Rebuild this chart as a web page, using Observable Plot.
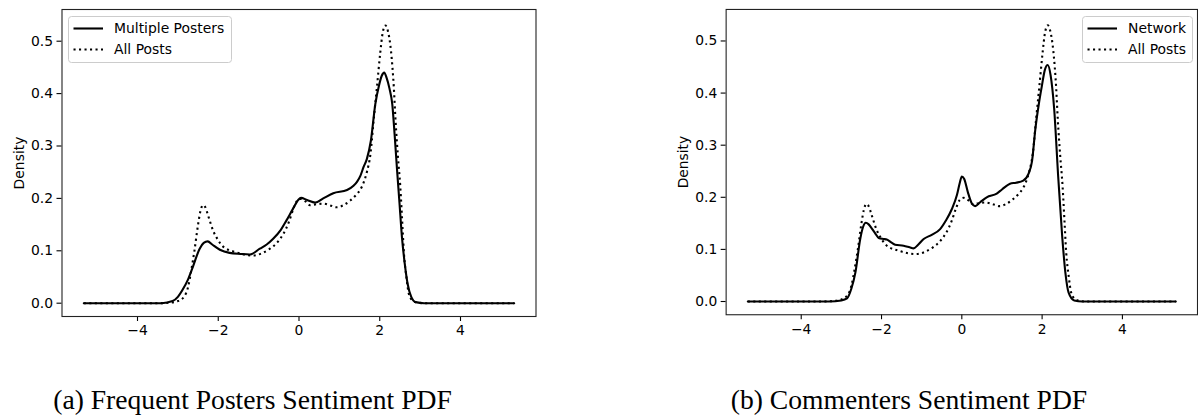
<!DOCTYPE html>
<html>
<head>
<meta charset="utf-8">
<script src="https://cdn.jsdelivr.net/npm/d3@7"></script>
<script src="https://cdn.jsdelivr.net/npm/@observablehq/plot@0.6"></script>
<style>
  html, body { margin: 0; padding: 0; background: #fff; }
  body { width: 1198px; height: 419px; position: relative; overflow: hidden; }
  .panel { position: absolute; top: 0; }
  .caption { position: absolute; top: 386px; font-family: "Liberation Serif", serif; font-size: 27.6px; line-height: 1; color: #000; white-space: nowrap; transform: translateX(-50%); }
  .legend { position: absolute; }
</style>
</head>
<body>
<div id="pa" class="panel" style="left:0px"></div>
<div id="pb" class="panel" style="left:660px"></div>
<div class="caption" style="left:252.5px">(a) Frequent Posters Sentiment PDF</div>
<div class="caption" style="left:909px">(b) Commenters Sentiment PDF</div>
<script>
// ---- data ----
const allPostsX = [-5.33,-3.5,-3.2,-3.0,-2.84,-2.75,-2.67,-2.59,-2.5,-2.44,-2.38,-2.32,-2.25,-2.13,-2.0,-1.88,-1.55,-1.3,-1.14,-0.9,-0.72,-0.55,-0.39,-0.25,-0.14,-0.05,0.05,0.15,0.27,0.45,0.6,0.8,0.94,1.1,1.27,1.42,1.52,1.6,1.68,1.77,1.85,1.93,2.01,2.07,2.14,2.2,2.28,2.35,2.39,2.45,2.51,2.56,2.6,2.66,2.72,2.8,2.89,3.1,5.33];
const allPostsY = [0,0,0.001,0.004,0.013,0.03,0.062,0.1,0.15,0.176,0.187,0.183,0.167,0.139,0.12,0.108,0.097,0.092,0.091,0.096,0.104,0.115,0.132,0.155,0.18,0.195,0.199,0.195,0.187,0.189,0.19,0.186,0.183,0.187,0.196,0.207,0.217,0.23,0.25,0.285,0.35,0.412,0.476,0.515,0.53,0.52,0.48,0.41,0.35,0.28,0.221,0.15,0.094,0.05,0.018,0.006,0.002,0,0];

const multiX = [-5.33,-3.4,-3.13,-3.0,-2.88,-2.75,-2.63,-2.46,-2.36,-2.26,-2.15,-1.96,-1.72,-1.45,-1.22,-0.97,-0.8,-0.64,-0.45,-0.31,-0.15,-0.02,0.05,0.2,0.4,0.6,0.85,1.19,1.35,1.44,1.52,1.6,1.68,1.78,1.89,1.98,2.05,2.11,2.17,2.24,2.31,2.37,2.43,2.49,2.55,2.62,2.69,2.78,2.89,3.1,5.33];
const multiY = [0,0,0.004,0.012,0.026,0.045,0.069,0.104,0.115,0.118,0.112,0.102,0.096,0.094,0.093,0.104,0.112,0.123,0.14,0.158,0.18,0.197,0.201,0.197,0.192,0.2,0.21,0.216,0.224,0.232,0.243,0.26,0.275,0.31,0.38,0.415,0.434,0.44,0.43,0.41,0.38,0.32,0.253,0.19,0.126,0.075,0.037,0.012,0.002,0,0];

const networkX = [-5.33,-3.3,-3.0,-2.86,-2.75,-2.65,-2.53,-2.46,-2.39,-2.32,-2.24,-2.15,-2.07,-1.95,-1.87,-1.75,-1.66,-1.45,-1.3,-1.2,-1.1,-0.95,-0.75,-0.54,-0.4,-0.25,-0.12,-0.05,0.0,0.06,0.15,0.25,0.33,0.45,0.62,0.87,1.0,1.2,1.35,1.53,1.66,1.75,1.83,1.92,1.99,2.07,2.14,2.21,2.3,2.4,2.5,2.58,2.66,2.8,3.0,5.33];
const networkY = [0,0,0.002,0.006,0.025,0.056,0.12,0.143,0.151,0.148,0.14,0.13,0.122,0.12,0.119,0.113,0.109,0.107,0.104,0.102,0.108,0.12,0.128,0.139,0.155,0.177,0.205,0.228,0.24,0.235,0.21,0.188,0.183,0.19,0.2,0.207,0.215,0.226,0.228,0.232,0.245,0.27,0.33,0.38,0.412,0.445,0.454,0.435,0.37,0.24,0.125,0.055,0.017,0.002,0,0];

const xTicks = [-4, -2, 0, 2, 4];
const yTicks = [0, 0.1, 0.2, 0.3, 0.4, 0.5];

const toRows = (xs, ys) => xs.map((x, i) => ({x, y: ys[i]}));
const FS = 13.9;

function panel(mainX, mainY, opts) {
  return Plot.plot({
    width: opts.width,
    height: 340,
    marginLeft: opts.marginLeft,
    marginRight: opts.marginRight,
    marginTop: 9,
    marginBottom: 24,
    style: {fontFamily: "'DejaVu Sans', sans-serif", fontSize: FS + "px", color: "#000", background: "transparent", overflow: "visible"},
    x: {domain: [-5.87, 5.87]},
    y: {domain: [-0.0254, 0.5605]},
    marks: [
      Plot.axisX({ticks: xTicks, tickSize: 5, tickPadding: 4, label: null, strokeWidth: 1.1, fontSize: FS}),
      Plot.axisY({ticks: yTicks, tickSize: 5, tickPadding: 4, tickFormat: d3.format(".1f"), label: "Density", labelAnchor: "center", labelArrow: "none", labelOffset: 48, strokeWidth: 1.1, fontSize: FS}),
      Plot.line(toRows(allPostsX, allPostsY), {x: "x", y: "y", stroke: "#000", strokeWidth: 2.1, strokeDasharray: "2.1,3.4", strokeLinecap: "butt", curve: "monotone-x"}),
      Plot.line(toRows(mainX, mainY), {x: "x", y: "y", stroke: "#000", strokeWidth: 2.1, curve: "monotone-x"}),
      Plot.frame({stroke: "#222", strokeWidth: 1.1})
    ]
  });
}

document.getElementById("pa").appendChild(panel(multiX, multiY, {width: 540, marginLeft: 61.5, marginRight: 4.5}));
document.getElementById("pb").appendChild(panel(networkX, networkY, {width: 541, marginLeft: 66, marginRight: 1}));

// legends
function legend(left, top, w, labels) {
  const svg = d3.create("svg").attr("class", "legend")
    .attr("width", w + 2).attr("height", 48)
    .style("left", left + "px").style("top", top + "px")
    .style("font-family", "'DejaVu Sans', sans-serif").style("font-size", FS + "px");
  svg.append("rect").attr("x", 0.5).attr("y", 0.5).attr("width", w).attr("height", 46)
    .attr("rx", 3).attr("fill", "#fff").attr("fill-opacity", 0.8).attr("stroke", "#cccccc");
  const rows = [{label: labels[0], dash: null, cy: 12.5}, {label: labels[1], dash: "2.1,3.4", cy: 33.5}];
  for (const r of rows) {
    const ln = svg.append("line").attr("x1", 5.5).attr("x2", 35).attr("y1", r.cy).attr("y2", r.cy)
      .attr("stroke", "#000").attr("stroke-width", 2.1).attr("stroke-linecap", "butt");
    if (r.dash) ln.attr("stroke-dasharray", r.dash);
    svg.append("text").attr("x", 46).attr("y", r.cy).attr("dy", "0.35em").attr("fill", "#000").text(r.label);
  }
  document.body.appendChild(svg.node());
}
legend(68, 16, 163, ["Multiple Posters", "All Posts"]);
legend(1082, 16, 110, ["Network", "All Posts"]);
</script>
</body>
</html>
